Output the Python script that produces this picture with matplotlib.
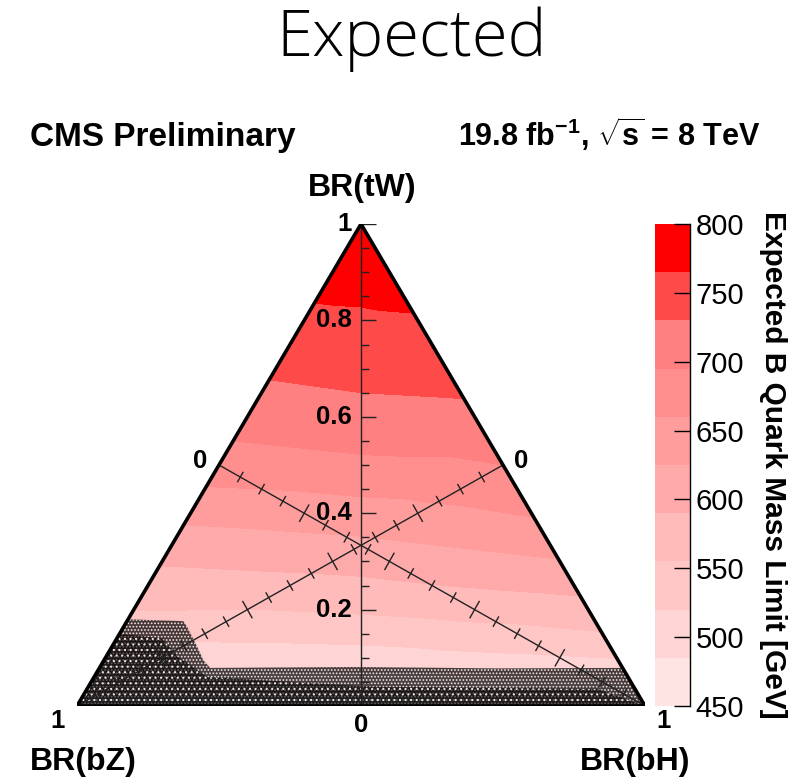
import numpy as np
import matplotlib
matplotlib.use("Agg")
import matplotlib.pyplot as plt
from matplotlib.tri import Triangulation
from matplotlib.patches import Polygon
from matplotlib.collections import LineCollection

plt.rcParams['font.family'] = ['Liberation Sans', 'DejaVu Sans']
plt.rcParams['mathtext.fontset'] = 'custom'
plt.rcParams['mathtext.rm'] = 'Liberation Sans'
plt.rcParams['mathtext.bf'] = 'Liberation Sans:bold'
plt.rcParams['mathtext.it'] = 'Liberation Sans:italic'
plt.rcParams['hatch.linewidth'] = 0.8

# ---------------- data ----------------
br_tw = [0.00, 0.05, 0.10, 0.15, 0.20, 0.25, 0.30, 0.35, 0.40, 0.45, 0.50,
         0.55, 0.60, 0.65, 0.70, 0.75, 0.80, 0.85, 0.90, 0.95, 1.00]
# expected limit [GeV] along the edge BR(bH)=0 (left edge)
limit_bh0 = [440, 464, 498, 528, 556, 575, 594, 614, 635, 658, 677,
             695, 709, 723, 736, 746, 757, 768, 778, 789, 798]
# along the median BR(bH)=BR(bZ)
limit_mid = [436, 471, 504, 534, 560, 582, 603, 624, 645, 667, 688,
             704, 717, 730, 740, 750, 760, 769, 779, 789, 798]
# along the edge BR(bZ)=0 (right edge)
limit_bz0 = [450, 485, 521, 553, 577, 600, 623, 643, 663, 679, 695,
             708, 721, 733, 743, 752, 762, 772, 781, 791, 798]

levels = [450, 485, 520, 555, 590, 625, 660, 695, 730, 765, 800]
band_colors = ['#ffe4e4', '#ffd4d4', '#ffc6c6', '#ffbaba', '#ffaaaa',
               '#ff9c9c', '#ff8f8f', '#ff8080', '#ff4a4a', '#ff0000']
cbar_ticks = [450, 500, 550, 600, 650, 700, 750, 800]

# region without sensitivity (stippled), outline in (BR(tW), BR(bH))
stip_tw = [0.00, 0.180, 0.176, 0.164, 0.122, 0.095, 0.079, 0.081, 0.078, 0.079, 0.00]
stip_bh = [0.00, 0.000, 0.099, 0.112, 0.151, 0.175, 0.195, 0.450, 0.700, 0.921, 1.00]
core_tw = [0.00, 0.150, 0.140, 0.100, 0.060, 0.040, 0.035, 0.00]
core_bh = [0.00, 0.000, 0.080, 0.130, 0.200, 0.500, 0.900, 1.00]

axis_ticks = [0.0, 0.2, 0.4, 0.6, 0.8, 1.0]
axis_labels = ['0', '0.2', '0.4', '0.6', '0.8', '1']

# ---------------- figure ----------------
W, H = 799, 780
fig = plt.figure(figsize=(W / 100, H / 100), dpi=100)
TX0, TX1, TY0, TY1 = 77, 645, 706, 224
ax = fig.add_axes([TX0 / W, (H - TY0) / H, (TX1 - TX0) / W, (TY0 - TY1) / H])
ax.set_xlim(0, 1)
ax.set_ylim(0, 1)
ax.axis('off')
PX, PY = TX1 - TX0, TY0 - TY1


def tern(tw, bh):
    tw = np.asarray(tw, float)
    bh = np.asarray(bh, float)
    return bh + 0.5 * tw, tw


# build point set
xs, ys, zs = [], [], []
for i, tw in enumerate(br_tw):
    if tw >= 1.0:
        x, y = tern(tw, 0.0)
        xs.append(float(x)); ys.append(float(y)); zs.append(limit_mid[i])
        continue
    rest = 1.0 - tw
    for frac, col in ((0.0, limit_bh0), (0.5, limit_mid), (1.0, limit_bz0)):
        x, y = tern(tw, frac * rest)
        xs.append(float(x)); ys.append(float(y)); zs.append(col[i])
tri = Triangulation(xs, ys)
cs = ax.tricontourf(tri, zs, levels=levels, colors=band_colors)

# stipple overlay (dark speckle)
sx, sy = tern(stip_tw, stip_bh)
ax.add_patch(Polygon(np.column_stack([sx, sy]), closed=True,
                     facecolor=(0, 0, 0, 0.72), edgecolor='#f6e4e4', lw=0,
                     hatch='.....', zorder=2))
cx, cy = tern(core_tw, core_bh)
ax.add_patch(Polygon(np.column_stack([cx, cy]), closed=True,
                     facecolor=(0, 0, 0, 0.6), edgecolor='#f0e0e0', lw=0,
                     hatch='...', zorder=2.1))

# triangle frame
ax.add_patch(Polygon([[0, 0], [1, 0], [0.5, 1]], closed=True, facecolor='none',
                     edgecolor='black', lw=2.6, joinstyle='miter', zorder=5))

# vertical BR(tW) axis
ax.plot([0.5, 0.5], [0, 1], color='#222222', lw=1.0, zorder=4)
segs = []
for k in range(21):
    v = k * 0.05
    ln = 15 if k % 4 == 0 else 8
    segs.append([(0.5, v), (0.5 + ln / PX, v)])
ax.add_collection(LineCollection(segs, colors='#222222', lw=1.0, zorder=4))
for v, s in zip(axis_ticks, axis_labels):
    if v == 0:
        ax.annotate(s, (0.5, 0), xytext=(0, -7), textcoords='offset pixels',
                    ha='center', va='top', fontsize=18.5, fontweight='bold')
    else:
        ax.annotate(s, (0.5, v), xytext=(-9, 0), textcoords='offset pixels',
                    ha='right', va='center', fontsize=18.5, fontweight='bold')


# medians (BR(bH) and BR(bZ) axes)
def median_axis(p0, p1):
    p0 = np.array(p0); p1 = np.array(p1)
    d = (p1 - p0) * np.array([PX, PY])
    d = d / np.hypot(*d)
    n = np.array([-d[1], d[0]])
    ax.plot([p0[0], p1[0]], [p0[1], p1[1]], color='#222222', lw=1.0, zorder=4)
    tsegs = []
    for k in range(1, 21):
        v = k * 0.05
        p = p0 + v * (p1 - p0)
        ln = 10 if k % 4 == 0 else 6
        off = n * ln / np.array([PX, PY])
        tsegs.append([tuple(p - off), tuple(p + off)])
    ax.add_collection(LineCollection(tsegs, colors='#222222', lw=1.0, zorder=4))


mid_left = tern(0.5, 0.0)
mid_right = tern(0.5, 0.5)
median_axis(mid_left, tern(0.0, 1.0))
median_axis(mid_right, tern(0.0, 0.0))

ax.annotate('0', mid_left, xytext=(-19, 4), textcoords='offset pixels',
            ha='center', va='center', fontsize=18.5, fontweight='bold')
ax.annotate('0', mid_right, xytext=(18, 4), textcoords='offset pixels',
            ha='center', va='center', fontsize=18.5, fontweight='bold')
ax.annotate('1', tern(0.0, 0.0), xytext=(-19, -15), textcoords='offset pixels',
            ha='center', va='center', fontsize=18.5, fontweight='bold')
ax.annotate('1', tern(0.0, 1.0), xytext=(19, -15), textcoords='offset pixels',
            ha='center', va='center', fontsize=18.5, fontweight='bold')

# ---------------- colorbar ----------------
cax = fig.add_axes([655 / W, (H - TY0) / H, 35 / W, (TY0 - TY1) / H])
cb = fig.colorbar(cs, cax=cax, ticks=cbar_ticks)
cb.outline.set_visible(False)
cax.yaxis.set_ticks_position('right')
cax.tick_params(axis='y', direction='in', length=11.5, width=1.0, pad=4,
                labelsize=21, colors='black')
cax.minorticks_off()
cax.plot([1, 1], [levels[0], levels[-1]], color='black', lw=1.0, clip_on=False)
fig.text(773 / W, 1 - 465 / H, 'Expected B Quark Mass Limit [GeV]', rotation=270,
         ha='center', va='center', fontsize=21.5, fontweight='bold')

# ---------------- texts ----------------
fig.text(412 / W, 1 - 56 / H, 'Expected', ha='center', va='baseline',
         fontsize=47, fontweight=300, family=['Open Sans', 'Liberation Sans'])
fig.text(30 / W, 1 - 146 / H, 'CMS Preliminary', ha='left', va='baseline',
         fontsize=24, fontweight='bold')
fig.text(760 / W, 1 - 146 / H, r'19.8 fb$^{\mathbf{-1}}$, $\mathbf{\sqrt{s}}$ = 8 TeV',
         ha='right', va='baseline', fontsize=22, fontweight='bold')
fig.text(362 / W, 1 - 196 / H, 'BR(tW)', ha='center', va='baseline',
         fontsize=23, fontweight='bold')
fig.text(30 / W, 1 - 770 / H, 'BR(bZ)', ha='left', va='baseline',
         fontsize=23, fontweight='bold')
fig.text(690 / W, 1 - 770 / H, 'BR(bH)', ha='right', va='baseline',
         fontsize=23, fontweight='bold')

fig.savefig('out.png', dpi=100)
